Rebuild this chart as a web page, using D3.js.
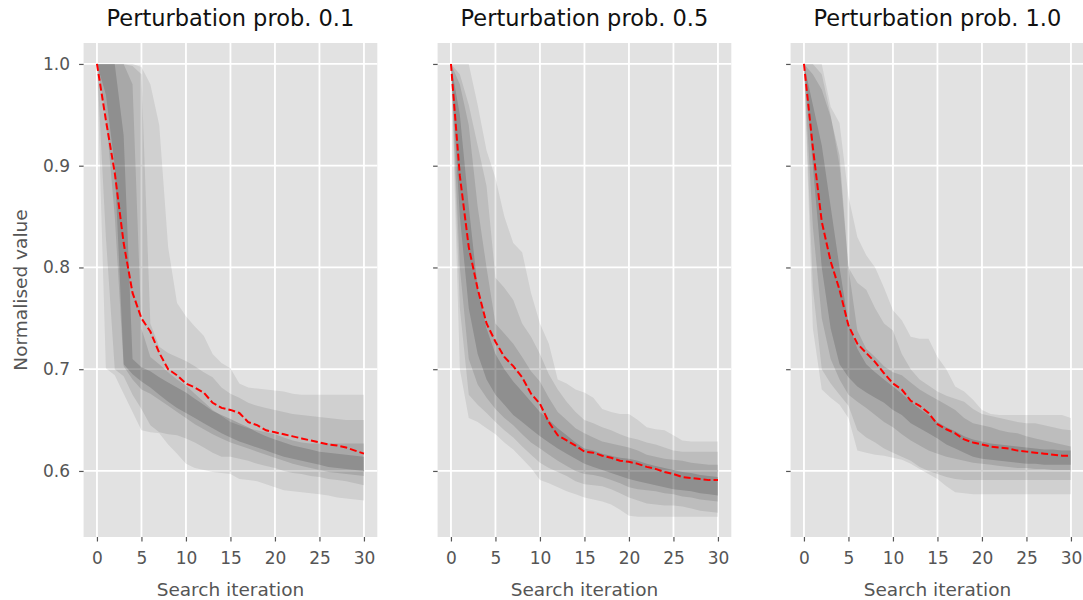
<!DOCTYPE html>
<html>
<head>
<meta charset="utf-8">
<script src="https://cdn.jsdelivr.net/npm/d3@7"></script>
<style>
  body { margin: 0; background: #fff; }
  text { font-family: "DejaVu Sans", sans-serif; }
</style>
</head>
<body>
<svg id="chart" width="1083" height="600"></svg>
<script>
// x categories: search iterations 0..30
const iterations = [0,1,2,3,4,5,6,7,8,9,10,11,12,13,14,15,16,17,18,19,20,21,22,23,24,25,26,27,28,29,30];
const panelTitles = ["Perturbation prob. 0.1", "Perturbation prob. 0.5", "Perturbation prob. 1.0"];
const xTicks = [0,5,10,15,20,25,30];
const yTicks = [0.6,0.7,0.8,0.9,1.0];

// panel 1 (prob 0.1)
const p1Mean = [1.0,0.945,0.893,0.824,0.775,0.750,0.737,0.716,0.700,0.694,0.686,0.682,0.677,0.667,0.662,0.660,0.657,0.648,0.645,0.640,0.638,0.636,0.634,0.632,0.630,0.628,0.626,0.625,0.623,0.620,0.617];
const p1Hi1 = [1,1,1,1,1,0.997,0.98,0.94,0.82,0.765,0.752,0.742,0.733,0.715,0.706,0.701,0.686,0.682,0.681,0.680,0.679,0.678,0.676,0.675,0.675,0.675,0.675,0.675,0.675,0.675,0.675];
const p1Lo1 = [1,0.701,0.694,0.676,0.658,0.640,0.638,0.637,0.626,0.617,0.607,0.603,0.601,0.599,0.598,0.597,0.592,0.591,0.590,0.587,0.584,0.581,0.580,0.579,0.578,0.577,0.576,0.574,0.573,0.572,0.571];
const p1Hi2 = [1,1,1,1,0.998,0.99,0.745,0.722,0.716,0.712,0.708,0.703,0.697,0.692,0.682,0.676,0.672,0.667,0.664,0.662,0.660,0.658,0.656,0.655,0.654,0.653,0.652,0.651,0.650,0.650,0.650];
const p1Lo2 = [1,0.83,0.70,0.693,0.675,0.661,0.645,0.638,0.636,0.635,0.632,0.628,0.623,0.618,0.614,0.614,0.612,0.610,0.607,0.605,0.603,0.600,0.598,0.597,0.595,0.594,0.592,0.591,0.590,0.588,0.586];
const p1Hi3 = [1,1,1,1,0.98,0.74,0.712,0.705,0.697,0.690,0.684,0.676,0.668,0.660,0.654,0.648,0.645,0.642,0.640,0.638,0.636,0.633,0.630,0.628,0.627,0.627,0.627,0.627,0.627,0.627,0.627];
const p1Lo3 = [1,0.95,0.85,0.703,0.690,0.680,0.676,0.670,0.664,0.658,0.652,0.646,0.641,0.636,0.632,0.628,0.625,0.622,0.619,0.616,0.613,0.610,0.607,0.605,0.603,0.601,0.599,0.598,0.597,0.596,0.595];
const p1Hi4 = [1,1,1,0.93,0.71,0.702,0.698,0.692,0.687,0.682,0.677,0.671,0.665,0.659,0.655,0.651,0.647,0.643,0.638,0.634,0.631,0.628,0.625,0.623,0.621,0.619,0.618,0.617,0.616,0.615,0.614];
const p1Lo4 = [1,0.97,0.90,0.705,0.695,0.688,0.682,0.675,0.668,0.662,0.657,0.652,0.647,0.642,0.637,0.633,0.629,0.626,0.623,0.620,0.617,0.614,0.612,0.610,0.608,0.606,0.604,0.603,0.602,0.601,0.600];

// panel 2 (prob 0.5)
const p2Mean = [1.0,0.89,0.82,0.779,0.745,0.727,0.712,0.703,0.692,0.676,0.666,0.648,0.635,0.630,0.625,0.619,0.618,0.615,0.613,0.610,0.609,0.607,0.604,0.602,0.599,0.597,0.594,0.593,0.592,0.591,0.591];
const p2Hi1 = [1,1,1,0.96,0.915,0.888,0.850,0.824,0.815,0.775,0.745,0.725,0.690,0.686,0.680,0.677,0.672,0.661,0.658,0.656,0.656,0.650,0.643,0.641,0.640,0.635,0.630,0.629,0.629,0.629,0.629];
const p2Lo1 = [1,0.70,0.652,0.648,0.642,0.636,0.628,0.621,0.612,0.603,0.591,0.588,0.584,0.580,0.577,0.574,0.572,0.570,0.567,0.562,0.556,0.555,0.555,0.555,0.555,0.555,0.555,0.555,0.555,0.555,0.555];
const p2Hi2 = [1,0.99,0.96,0.92,0.88,0.79,0.78,0.768,0.745,0.732,0.715,0.695,0.680,0.668,0.658,0.650,0.647,0.643,0.640,0.636,0.633,0.631,0.628,0.626,0.623,0.620,0.619,0.619,0.619,0.619,0.619];
const p2Lo2 = [1,0.76,0.675,0.665,0.657,0.648,0.640,0.633,0.624,0.616,0.608,0.603,0.599,0.595,0.590,0.587,0.586,0.585,0.582,0.578,0.574,0.571,0.568,0.567,0.566,0.566,0.565,0.563,0.561,0.560,0.559];
const p2Hi3 = [1,0.98,0.94,0.86,0.80,0.745,0.735,0.725,0.712,0.698,0.688,0.672,0.658,0.650,0.642,0.637,0.633,0.629,0.627,0.625,0.623,0.620,0.616,0.614,0.612,0.611,0.610,0.608,0.607,0.606,0.606];
const p2Lo3 = [1,0.80,0.71,0.685,0.672,0.661,0.652,0.645,0.636,0.628,0.622,0.616,0.610,0.605,0.600,0.597,0.596,0.594,0.591,0.588,0.584,0.582,0.581,0.580,0.578,0.577,0.575,0.574,0.572,0.571,0.570];
const p2Hi4 = [1,0.95,0.86,0.78,0.74,0.715,0.70,0.688,0.678,0.668,0.658,0.650,0.642,0.635,0.628,0.622,0.620,0.617,0.615,0.613,0.612,0.610,0.607,0.605,0.603,0.601,0.599,0.598,0.596,0.595,0.594];
const p2Lo4 = [1,0.85,0.76,0.715,0.69,0.675,0.665,0.655,0.648,0.641,0.634,0.628,0.622,0.617,0.612,0.607,0.604,0.601,0.598,0.595,0.592,0.590,0.588,0.586,0.584,0.582,0.581,0.580,0.578,0.577,0.576];

// panel 3 (prob 1.0)
const p3Mean = [1.0,0.918,0.845,0.806,0.778,0.743,0.725,0.716,0.707,0.696,0.686,0.680,0.669,0.664,0.657,0.646,0.641,0.637,0.631,0.628,0.626,0.624,0.623,0.622,0.620,0.619,0.618,0.617,0.616,0.615,0.615];
const p3Hi1 = [1,1,1,0.958,0.942,0.87,0.830,0.812,0.80,0.78,0.758,0.748,0.732,0.730,0.730,0.712,0.700,0.683,0.678,0.670,0.660,0.656,0.655,0.655,0.655,0.655,0.655,0.655,0.655,0.655,0.652];
const p3Lo1 = [1,0.74,0.680,0.672,0.665,0.652,0.620,0.618,0.616,0.615,0.613,0.611,0.607,0.602,0.597,0.592,0.585,0.579,0.578,0.577,0.577,0.577,0.577,0.577,0.577,0.577,0.577,0.577,0.577,0.577,0.577];
const p3Hi2 = [1,1,0.99,0.95,0.90,0.80,0.785,0.778,0.760,0.745,0.738,0.715,0.700,0.690,0.684,0.678,0.674,0.671,0.668,0.661,0.656,0.654,0.652,0.650,0.648,0.647,0.647,0.645,0.643,0.641,0.640];
const p3Lo2 = [1,0.78,0.70,0.686,0.675,0.664,0.640,0.633,0.628,0.622,0.618,0.614,0.610,0.604,0.600,0.597,0.594,0.592,0.591,0.591,0.591,0.591,0.591,0.591,0.591,0.591,0.591,0.591,0.591,0.591,0.591];
const p3Hi3 = [1,0.99,0.975,0.948,0.91,0.80,0.738,0.72,0.712,0.703,0.697,0.694,0.687,0.680,0.675,0.670,0.665,0.660,0.652,0.647,0.645,0.643,0.640,0.638,0.637,0.634,0.632,0.630,0.628,0.626,0.624];
const p3Lo3 = [1,0.84,0.75,0.71,0.69,0.675,0.668,0.662,0.655,0.648,0.643,0.636,0.630,0.625,0.620,0.617,0.614,0.612,0.610,0.608,0.607,0.606,0.605,0.604,0.603,0.603,0.602,0.602,0.601,0.601,0.601];
const p3Hi4 = [1,0.96,0.92,0.86,0.80,0.745,0.72,0.705,0.697,0.69,0.683,0.676,0.668,0.661,0.655,0.648,0.643,0.639,0.634,0.631,0.629,0.627,0.626,0.625,0.624,0.623,0.622,0.621,0.621,0.620,0.620];
const p3Lo4 = [1,0.90,0.80,0.74,0.705,0.692,0.683,0.677,0.672,0.667,0.660,0.655,0.647,0.642,0.637,0.632,0.626,0.622,0.618,0.614,0.612,0.611,0.610,0.609,0.608,0.607,0.607,0.606,0.606,0.606,0.606];

const panels = [
  {title: panelTitles[0], mean: p1Mean, bands: [[p1Lo1,p1Hi1],[p1Lo2,p1Hi2],[p1Lo3,p1Hi3],[p1Lo4,p1Hi4]]},
  {title: panelTitles[1], mean: p2Mean, bands: [[p2Lo1,p2Hi1],[p2Lo2,p2Hi2],[p2Lo3,p2Hi3],[p2Lo4,p2Hi4]]},
  {title: panelTitles[2], mean: p3Mean, bands: [[p3Lo1,p3Hi1],[p3Lo2,p3Hi2],[p3Lo3,p3Hi3],[p3Lo4,p3Hi4]]}
];

// layout
const panelLefts = [83.6, 437.6, 790.6];
const panelW = 293.7, panelTop = 43, panelBottom = 537;
const bandOpacity = [0.08, 0.09, 0.11, 0.15];

const svg = d3.select("#chart");
const y = d3.scaleLinear().domain([0.5351, 1.0206]).range([panelBottom, panelTop]);

panels.forEach((p, k) => {
  const left = panelLefts[k];
  const x = d3.scaleLinear().domain([-1.5, 31.5]).range([left, left + panelW]);
  const g = svg.append("g");

  g.append("clipPath").attr("id", "clip" + k)
    .append("rect").attr("x", left).attr("y", panelTop).attr("width", panelW).attr("height", panelBottom - panelTop);

  g.append("rect")
    .attr("x", left).attr("y", panelTop)
    .attr("width", panelW).attr("height", panelBottom - panelTop)
    .attr("fill", "#e2e2e2");

  // grid
  g.selectAll(".gx").data(xTicks).enter().append("line")
    .attr("x1", d => x(d)).attr("x2", d => x(d))
    .attr("y1", panelTop).attr("y2", panelBottom)
    .attr("stroke", "#fff").attr("stroke-width", 1.8);
  g.selectAll(".gy").data(yTicks).enter().append("line")
    .attr("x1", left).attr("x2", left + panelW)
    .attr("y1", d => y(d)).attr("y2", d => y(d))
    .attr("stroke", "#fff").attr("stroke-width", 1.8);

  const plot = g.append("g").attr("clip-path", "url(#clip" + k + ")");

  p.bands.forEach((b, j) => {
    const area = d3.area()
      .x((d, i) => x(iterations[i]))
      .y0((d, i) => y(b[0][i]))
      .y1((d, i) => y(b[1][i]));
    plot.append("path")
      .datum(iterations)
      .attr("d", area)
      .attr("fill", "#000")
      .attr("fill-opacity", bandOpacity[j]);
  });

  const line = d3.line()
    .x((d, i) => x(iterations[i]))
    .y(d => y(d));
  plot.append("path")
    .datum(p.mean)
    .attr("d", line)
    .attr("fill", "none")
    .attr("stroke", "#ff0000")
    .attr("stroke-width", 2)
    .attr("stroke-dasharray", "7,3");

  // axes
  const xAxis = d3.axisBottom(x).tickValues(xTicks).tickSize(4.5).tickPadding(10);
  const gx = g.append("g").attr("transform", `translate(0,${panelBottom})`).call(xAxis);
  gx.select(".domain").remove();
  gx.selectAll("line").attr("stroke", "#555").attr("stroke-width", 1.2);
  gx.selectAll("text").attr("fill", "#555").style("font-size", "17px").style("font-family", "DejaVu Sans");

  const yAxis = d3.axisLeft(y).tickValues(yTicks).tickSize(4.5).tickPadding(9)
    .tickFormat(k === 0 ? d3.format(".1f") : "");
  const gy = g.append("g").attr("transform", `translate(${left},0)`).call(yAxis);
  gy.select(".domain").remove();
  gy.selectAll("line").attr("stroke", "#555").attr("stroke-width", 1.2);
  gy.selectAll("text").attr("fill", "#555").style("font-size", "17px").style("font-family", "DejaVu Sans");

  g.append("text")
    .attr("x", left + panelW / 2).attr("y", 26)
    .attr("text-anchor", "middle")
    .style("font-size", "22.5px")
    .attr("fill", "#111")
    .text(p.title);

  g.append("text")
    .attr("x", left + panelW / 2).attr("y", 596)
    .attr("text-anchor", "middle")
    .style("font-size", "18.5px")
    .attr("fill", "#555")
    .text("Search iteration");
});

svg.append("text")
  .attr("transform", `translate(27,${(panelTop + panelBottom) / 2}) rotate(-90)`)
  .attr("text-anchor", "middle")
  .style("font-size", "18.5px")
  .attr("fill", "#555")
  .text("Normalised value");
</script>
</body>
</html>
